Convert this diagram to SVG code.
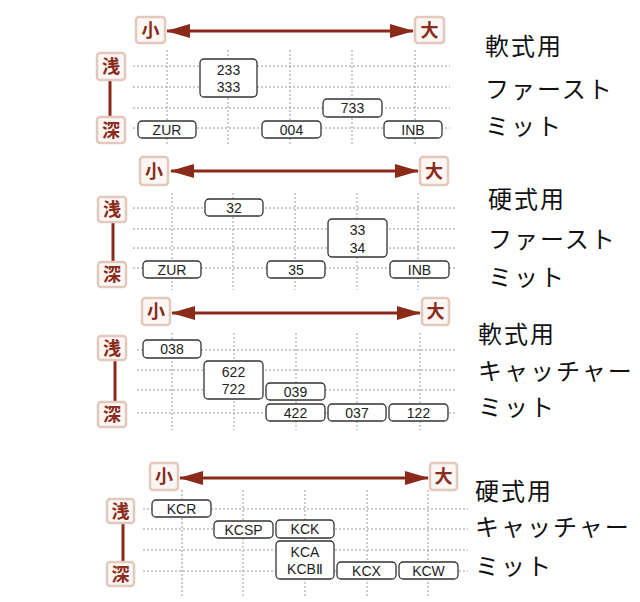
<svg xmlns="http://www.w3.org/2000/svg" width="640" height="602" viewBox="0 0 640 602">
<defs>
<style>
.lb{fill:#fcf7f4;stroke:#e3c9bd;stroke-width:2.5}
.lt{font-family:"Noto Sans CJK JP",sans-serif;font-weight:bold;font-size:18px;fill:#8a2b1b;text-anchor:middle}
.ax{stroke:#8c2a1a;stroke-width:3;fill:none}
.vl{stroke:#8c2a1a;stroke-width:3}
.g{stroke:#9a9a9a;stroke-width:1;stroke-dasharray:2 2;fill:none}
.b{fill:#fff;stroke:#333;stroke-width:1.3}
.bt{font-family:"Liberation Sans",Arial,sans-serif;font-size:14px;fill:#222;text-anchor:middle}
.rt{font-family:"Noto Sans CJK JP",sans-serif;font-size:24px;fill:#111;letter-spacing:2px}
</style>
<marker id="ah" viewBox="0 0 24 14" refX="23" refY="7" markerWidth="24" markerHeight="14" markerUnits="userSpaceOnUse" orient="auto-start-reverse">
<path d="M0,0 L24,7 L0,14 z" fill="#8c2a1a"/>
</marker>
</defs>
<rect width="640" height="602" fill="#fff"/>

<!-- Panel 1 -->
<g id="grid1">
<path class="g" d="M133,66H450M133,87H450M133,108H450M133,128H450"/>
<path class="g" d="M167,50V145M228,50V145M290,50V145M352,50V145M415,50V145"/>
</g>
<g id="connectors1">
<line class="ax" x1="167" y1="31" x2="413" y2="31" marker-start="url(#ah)" marker-end="url(#ah)"/>
<line class="vl" x1="110" y1="80" x2="110" y2="117"/>
</g>
<g id="p1-small"><rect class="lb" x="136" y="17" width="29" height="26" rx="3"/><text class="lt" x="150.5" y="36.5">小</text></g>
<g id="p1-large"><rect class="lb" x="415" y="17" width="29" height="26" rx="3"/><text class="lt" x="429.5" y="36.5">大</text></g>
<g id="p1-shallow"><rect class="lb" x="97" y="53" width="28" height="27" rx="3"/><text class="lt" x="111" y="73">浅</text></g>
<g id="p1-deep"><rect class="lb" x="97" y="117" width="28" height="26" rx="3"/><text class="lt" x="111" y="136.5">深</text></g>
<g id="p1-233"><rect class="b" x="200" y="59" width="57" height="38" rx="4"/><text class="bt" x="228.5" y="75">233</text><text class="bt" x="228.5" y="92">333</text></g>
<g id="p1-733"><rect class="b" x="323" y="99" width="59" height="18" rx="4"/><text class="bt" x="352.5" y="113">733</text></g>
<g id="p1-ZUR"><rect class="b" x="138" y="121" width="58" height="17" rx="4"/><text class="bt" x="167" y="134.5">ZUR</text></g>
<g id="p1-004"><rect class="b" x="262" y="121" width="59" height="17" rx="4"/><text class="bt" x="291.5" y="134.5">004</text></g>
<g id="p1-INB"><rect class="b" x="384" y="121" width="58" height="17" rx="4"/><text class="bt" x="413" y="134.5">INB</text></g>
<g id="p1-title"><text class="rt" x="485" y="55">軟式用</text><text class="rt" x="485" y="98">ファースト</text><text class="rt" x="485" y="135">ミット</text></g>

<!-- Panel 2 -->
<g id="grid2">
<path class="g" d="M133,208H455M133,229H455M133,248H455M133,268H455"/>
<path class="g" d="M172,193V290M233,193V290M295,193V290M357,193V290M418,193V290"/>
</g>
<g id="connectors2">
<line class="ax" x1="171" y1="171" x2="418" y2="171" marker-start="url(#ah)" marker-end="url(#ah)"/>
<line class="vl" x1="113" y1="222" x2="113" y2="262"/>
</g>
<g id="p2-small"><rect class="lb" x="140" y="157" width="28" height="28" rx="3"/><text class="lt" x="154" y="177.5">小</text></g>
<g id="p2-large"><rect class="lb" x="420" y="157" width="28" height="28" rx="3"/><text class="lt" x="434" y="177.5">大</text></g>
<g id="p2-shallow"><rect class="lb" x="98" y="197" width="28" height="25" rx="3"/><text class="lt" x="112" y="216">浅</text></g>
<g id="p2-deep"><rect class="lb" x="98" y="262" width="28" height="25" rx="3"/><text class="lt" x="112" y="281">深</text></g>
<g id="p2-32"><rect class="b" x="205" y="199" width="58" height="17" rx="4"/><text class="bt" x="234" y="212.5">32</text></g>
<g id="p2-33"><rect class="b" x="328" y="219" width="59" height="38" rx="4"/><text class="bt" x="357.5" y="234.5">33</text><text class="bt" x="357.5" y="252.5">34</text></g>
<g id="p2-ZUR"><rect class="b" x="143" y="261" width="58" height="17" rx="4"/><text class="bt" x="172" y="274.5">ZUR</text></g>
<g id="p2-35"><rect class="b" x="267" y="261" width="58" height="17" rx="4"/><text class="bt" x="296" y="274.5">35</text></g>
<g id="p2-INB"><rect class="b" x="390" y="261" width="59" height="17" rx="4"/><text class="bt" x="419.5" y="274.5">INB</text></g>
<g id="p2-title"><text class="rt" x="488" y="208">硬式用</text><text class="rt" x="488" y="248">ファースト</text><text class="rt" x="488" y="286">ミット</text></g>

<!-- Panel 3 -->
<g id="grid3">
<path class="g" d="M137,350H455M137,370H455M137,390H455M137,413H455"/>
<path class="g" d="M172,333V430M234,333V430M296,333V430M357,333V430M420,333V430"/>
</g>
<g id="connectors3">
<line class="ax" x1="172" y1="313" x2="420" y2="313" marker-start="url(#ah)" marker-end="url(#ah)"/>
<line class="vl" x1="115" y1="360" x2="115" y2="402"/>
</g>
<g id="p3-small"><rect class="lb" x="142" y="298" width="28" height="27" rx="3"/><text class="lt" x="156" y="318">小</text></g>
<g id="p3-large"><rect class="lb" x="422" y="298" width="27" height="27" rx="3"/><text class="lt" x="435.5" y="318">大</text></g>
<g id="p3-shallow"><rect class="lb" x="98" y="336" width="28" height="24" rx="3"/><text class="lt" x="112" y="354.5">浅</text></g>
<g id="p3-deep"><rect class="lb" x="98" y="402" width="28" height="25" rx="3"/><text class="lt" x="112" y="421">深</text></g>
<g id="p3-038"><rect class="b" x="143" y="340" width="58" height="18" rx="4"/><text class="bt" x="172" y="354">038</text></g>
<g id="p3-622"><rect class="b" x="204" y="361" width="59" height="38" rx="4"/><text class="bt" x="233.5" y="376.5">622</text><text class="bt" x="233.5" y="393.5">722</text></g>
<g id="p3-039"><rect class="b" x="266" y="383" width="59" height="17" rx="4"/><text class="bt" x="295.5" y="396.5">039</text></g>
<g id="p3-422"><rect class="b" x="266" y="404" width="59" height="17" rx="4"/><text class="bt" x="295.5" y="417.5">422</text></g>
<g id="p3-037"><rect class="b" x="328" y="404" width="58" height="17" rx="4"/><text class="bt" x="357" y="417.5">037</text></g>
<g id="p3-122"><rect class="b" x="389" y="404" width="59" height="17" rx="4"/><text class="bt" x="418.5" y="417.5">122</text></g>
<g id="p3-title"><text class="rt" x="478" y="343">軟式用</text><text class="rt" x="478" y="380">キャッチャー</text><text class="rt" x="478" y="416">ミット</text></g>

<!-- Panel 4 -->
<g id="grid4">
<path class="g" d="M143,509H468M143,529H468M143,550H468M143,571H468"/>
<path class="g" d="M182,490V598M243,490V598M305,490V598M367,490V598M428,490V598"/>
</g>
<g id="connectors4">
<line class="ax" x1="180" y1="478" x2="428" y2="478" marker-start="url(#ah)" marker-end="url(#ah)"/>
<line class="vl" x1="123" y1="523" x2="123" y2="562"/>
</g>
<g id="p4-small"><rect class="lb" x="150" y="463" width="28" height="27" rx="3"/><text class="lt" x="164" y="483">小</text></g>
<g id="p4-large"><rect class="lb" x="430" y="463" width="27" height="27" rx="3"/><text class="lt" x="443.5" y="483">大</text></g>
<g id="p4-shallow"><rect class="lb" x="107" y="499" width="27" height="24" rx="3"/><text class="lt" x="120.5" y="517.5">浅</text></g>
<g id="p4-deep"><rect class="lb" x="107" y="562" width="27" height="24" rx="3"/><text class="lt" x="120.5" y="580.5">深</text></g>
<g id="p4-KCR"><rect class="b" x="152" y="500" width="59" height="17" rx="4"/><text class="bt" x="181.5" y="513.5">KCR</text></g>
<g id="p4-KCSP"><rect class="b" x="214" y="521" width="59" height="17" rx="4"/><text class="bt" x="243.5" y="534.5">KCSP</text></g>
<g id="p4-KCK"><rect class="b" x="276" y="520" width="58" height="18" rx="4"/><text class="bt" x="305" y="534">KCK</text></g>
<g id="p4-KCA"><rect class="b" x="276" y="541" width="58" height="38" rx="4"/><text class="bt" x="305" y="556.5">KCA</text><text class="bt" x="305" y="573.5">KCBⅡ</text></g>
<g id="p4-KCX"><rect class="b" x="337" y="562" width="59" height="17" rx="4"/><text class="bt" x="366.5" y="575.5">KCX</text></g>
<g id="p4-KCW"><rect class="b" x="399" y="562" width="59" height="17" rx="4"/><text class="bt" x="428.5" y="575.5">KCW</text></g>
<g id="p4-title"><text class="rt" x="475" y="500">硬式用</text><text class="rt" x="475" y="536">キャッチャー</text><text class="rt" x="475" y="575">ミット</text></g>
</svg>
